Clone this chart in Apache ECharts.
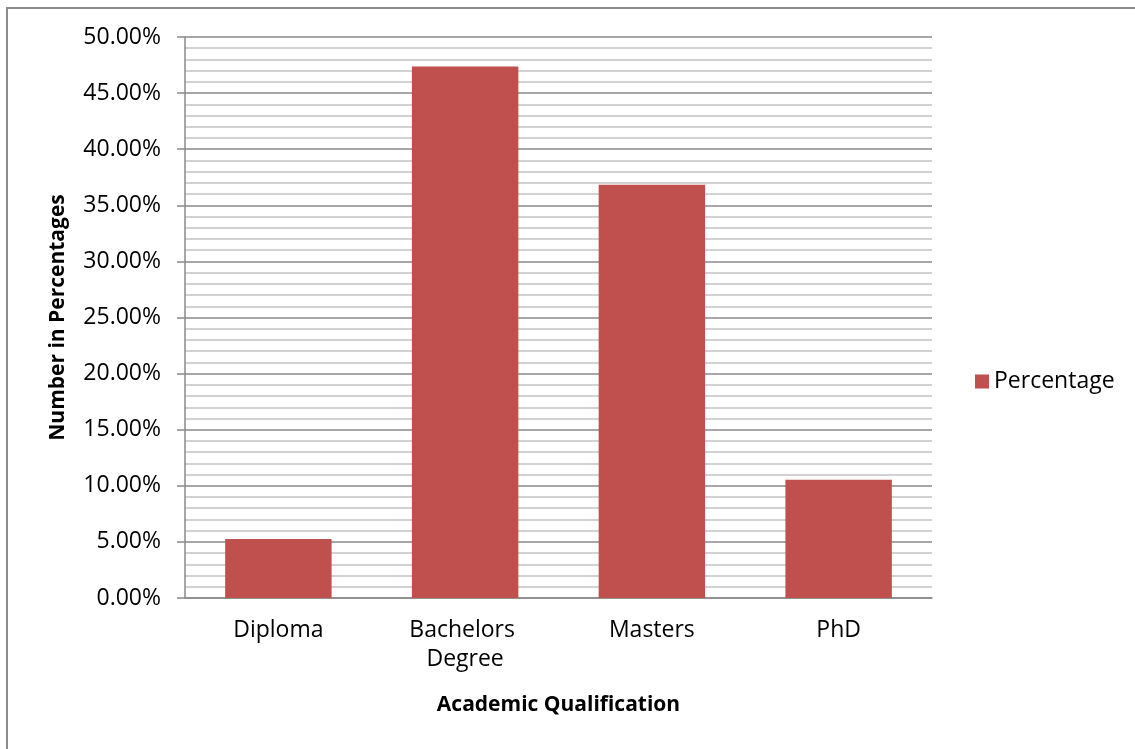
<!DOCTYPE html>
<html>
<head>
<meta charset="utf-8">
<style>
  html, body { margin: 0; padding: 0; background: #fff; }
  #chart { width: 1135px; height: 749px; }
</style>
<script src="https://cdn.jsdelivr.net/npm/echarts@6/dist/echarts.min.js"></script>
</head>
<body>
<div id="chart"></div>
<script>
// Share of respondents by academic qualification (percent)
const categories = ['Diploma', 'Bachelors Degree', 'Masters', 'PhD'];
const percentage = [5.26, 47.37, 36.84, 10.53];
const seriesName = 'Percentage';
const xAxisTitle = 'Academic Qualification';
const yAxisTitle = 'Number in Percentages';

const FONT = '"Open Sans", "Liberation Sans", sans-serif';
const BAR = '#C0504D';
const MAJOR = '#8a8a8a';
const MINOR = '#c4c4c4';

const chart = echarts.init(document.getElementById('chart'), null, { renderer: 'canvas' });

chart.setOption({
  animation: false,
  backgroundColor: '#ffffff',
  textStyle: { fontFamily: FONT, color: '#000' },
  graphic: [{
    type: 'rect',
    shape: { x: 7, y: 8, width: 1300, height: 900 },
    style: { fill: 'none', stroke: '#8c8c8c', lineWidth: 2 },
    silent: true,
    z: -10
  }],
  grid: {
    left: 185, right: 203, top: 37, bottom: 151,
    outerBoundsMode: 'none'
  },
  legend: {
    orient: 'vertical',
    left: 975,
    top: 370,
    padding: 0,
    itemWidth: 14,
    itemHeight: 14,
    icon: 'rect',
    textStyle: { fontFamily: FONT, fontSize: 23, color: '#000', lineHeight: 22 },
    data: [seriesName]
  },
  xAxis: {
    type: 'category',
    data: categories,
    name: xAxisTitle,
    nameLocation: 'middle',
    nameGap: 93,
    nameTextStyle: { fontFamily: FONT, fontSize: 21, fontWeight: 'bold', color: '#000', lineHeight: 28 },
    axisLine: { show: true, lineStyle: { color: MAJOR, width: 1.5 } },
    axisTick: { show: false },
    axisLabel: {
      interval: 0,
      margin: 18,
      fontFamily: FONT,
      fontSize: 23,
      lineHeight: 29,
      color: '#000',
      width: 140,
      overflow: 'break',
      align: 'center'
    },
    splitLine: { show: false }
  },
  yAxis: {
    type: 'value',
    min: 0,
    max: 50,
    interval: 5,
    name: yAxisTitle,
    nameLocation: 'middle',
    nameGap: 109,
    nameRotate: 90,
    nameTextStyle: { fontFamily: FONT, fontSize: 21, fontWeight: 'bold', color: '#000', lineHeight: 28 },
    axisLine: { show: true, lineStyle: { color: MAJOR, width: 1.5 } },
    axisTick: { show: true, inside: false, length: 8, lineStyle: { color: MAJOR, width: 1.5 } },
    axisLabel: {
      margin: 24,
      fontFamily: FONT,
      fontSize: 23,
      color: '#000',
      padding: [4, 0, 0, 0],
      formatter: v => v.toFixed(2) + '%'
    },
    splitLine: { show: true, lineStyle: { color: MAJOR, width: 1.5 } },
    minorTick: { show: false, splitNumber: 5 },
    minorSplitLine: { show: true, lineStyle: { color: MINOR, width: 1.5 } }
  },
  series: [{
    name: seriesName,
    type: 'bar',
    data: percentage,
    barWidth: '57%',
    itemStyle: { color: BAR },
    z: 3
  }]
});
</script>
</body>
</html>
